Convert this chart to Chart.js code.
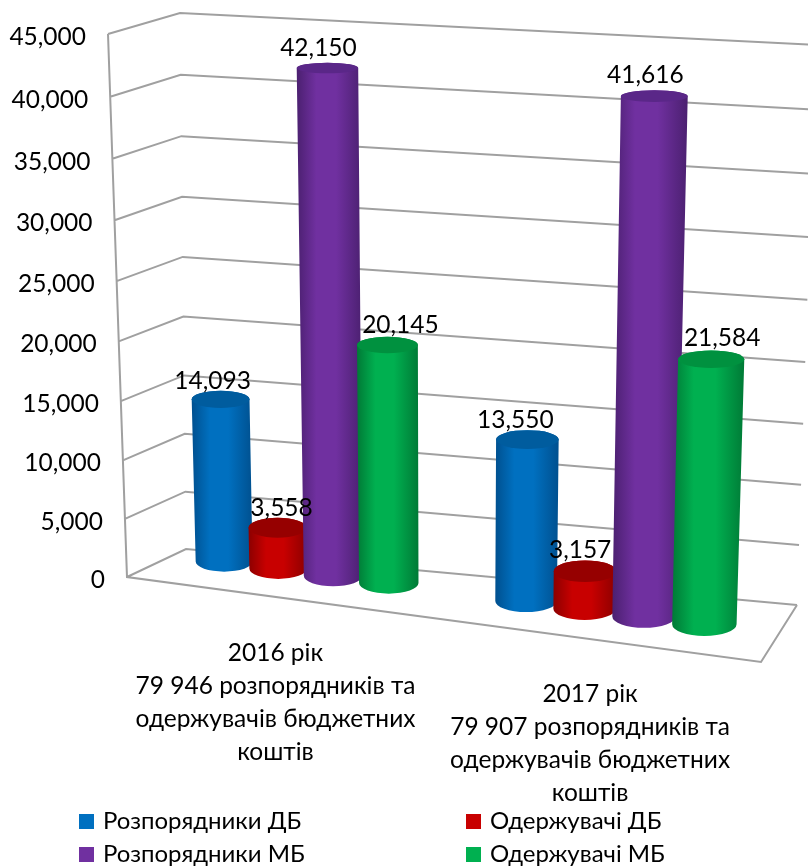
<!DOCTYPE html>
<html>
<head>
<meta charset="utf-8">
<script src="https://cdn.jsdelivr.net/npm/chart.js@4"></script>
<style>
  html, body { margin: 0; padding: 0; background: #fff; }
  #wrap { position: relative; width: 808px; height: 867px; overflow: hidden; }
  #myChart { display: block; }
  #legend div { position: absolute; font: 24px Lato, Carlito, sans-serif; color: #000; line-height: 30px; white-space: nowrap; }
  #legend i { display: inline-block; width: 15px; height: 15px; margin-right: 9px; }
</style>
</head>
<body>
<div id="wrap">
  <canvas id="myChart" width="808" height="867"></canvas>
  <div id="legend"></div>
</div>
<script>
const categories = [
  ["2016 рік", "79 946 розпорядників та", "одержувачів бюджетних", "коштів"],
  ["2017 рік", "79 907 розпорядників та", "одержувачів бюджетних", "коштів"],
];
const seriesNames = ["Розпорядники ДБ", "Одержувачі ДБ", "Розпорядники МБ", "Одержувачі МБ"];
const rozporDB = [14093, 13550];
const oderzhDB = [3558, 3157];
const rozporMB = [42150, 41616];
const oderzhMB = [20145, 21584];

// side colour, side edge colour, lid colour
const colors = [
  ["#0070c0", "#00508f", "#005c9e"],
  ["#c80000", "#8c0000", "#960000"],
  ["#7030a0", "#4b2070", "#5a2788"],
  ["#00b050", "#007a36", "#00913f"],
];
// how far each value label sits from its lid: x per category, then y
const labelShift = [[-8, -12], [4, -5], [-9, -9], [13, 11]];
const labelLift = [10, 10, 15, 12];
const categoryShift = [-30, -24];
const FONT = "24.5px Lato, Carlito, sans-serif";

// picture plane of the bars: (t,v) unit square -> page, corners
const plane = squareToQuad([160, 553], [778, 634], [797, 60], [145, 21]);
// the walls
const wall = {
  front: [[127, 577], [108, 34]],
  back: [[186, 549], [180, 13]],
  right: [[797, 605], [816, 45]],
  corner: [761, 662],
};

function squareToQuad(p0, p1, p2, p3) {
  var dx1 = p1[0] - p2[0], dx2 = p3[0] - p2[0], sx = p0[0] - p1[0] + p2[0] - p3[0];
  var dy1 = p1[1] - p2[1], dy2 = p3[1] - p2[1], sy = p0[1] - p1[1] + p2[1] - p3[1];
  var den = dx1 * dy2 - dx2 * dy1;
  var g = (sx * dy2 - dx2 * sy) / den, h = (dx1 * sy - sx * dy1) / den;
  return {
    a: p1[0] - p0[0] + g * p1[0], b: p3[0] - p0[0] + h * p3[0], c: p0[0],
    d: p1[1] - p0[1] + g * p1[1], e: p3[1] - p0[1] + h * p3[1], f: p0[1],
    g: g, h: h,
  };
}

function project(chart, px, py) {
  var area = chart.chartArea;
  var t = (px - area.left) / (area.right - area.left);
  var v = (area.bottom - py) / (area.bottom - area.top);
  var w = plane.g * t + plane.h * v + 1;
  return { x: (plane.a * t + plane.b * v + plane.c) / w, y: (plane.d * t + plane.e * v + plane.f) / w, v: v };
}

function wallPoint(line, frac) {
  var f = frac / (1 + 0.044 * (1 - frac));
  return [line[0][0] + (line[1][0] - line[0][0]) * f, line[0][1] + (line[1][1] - line[0][1]) * f];
}

function drawCylinder(ctx, chart, el, col) {
  var half = el.width / 2;
  var tl = project(chart, el.x - half, el.y), tr = project(chart, el.x + half, el.y);
  var bl = project(chart, el.x - half, el.base), br = project(chart, el.x + half, el.base);
  var topW = (tr.x - tl.x) / 2, botW = (br.x - bl.x) / 2;
  var topH = topW * (0.36 - 0.2 * tl.v), botH = botW * 0.36;
  var topC = [(tl.x + tr.x) / 2, (tl.y + tr.y) / 2], botC = [(bl.x + br.x) / 2, (bl.y + br.y) / 2];

  var grad = ctx.createLinearGradient(Math.min(tl.x, bl.x), 0, Math.max(tr.x, br.x), 0);
  grad.addColorStop(0, col[1]);
  grad.addColorStop(0.3, col[0]);
  grad.addColorStop(0.6, col[0]);
  grad.addColorStop(1, col[1]);

  // lids sit level in the picture, the sides just join them
  ctx.beginPath();
  ctx.moveTo(topC[0] - topW, topC[1]);
  ctx.lineTo(botC[0] - botW, botC[1]);
  ctx.ellipse(botC[0], botC[1], botW, botH, 0, Math.PI, 0, true);
  ctx.lineTo(topC[0] + topW, topC[1]);
  ctx.ellipse(topC[0], topC[1], topW, topH, 0, 0, Math.PI, true);
  ctx.closePath();
  ctx.fillStyle = grad;
  ctx.fill();

  ctx.beginPath();
  ctx.ellipse(topC[0], topC[1], topW, topH, 0, 0, Math.PI * 2);
  ctx.fillStyle = col[2];
  ctx.fill();
  return { x: topC[0], y: topC[1] - topH };
}

const scene3d = {
  id: "scene3d",
  beforeDatasetsDraw(chart) {
    var ctx = chart.ctx, yScale = chart.scales.y;
    ctx.save();
    ctx.strokeStyle = "#a0a0a0";
    ctx.lineWidth = 2;
    ctx.beginPath();
    yScale.ticks.forEach((tick) => {
      var frac = tick.value / yScale.max;
      var a = wallPoint(wall.front, frac), b = wallPoint(wall.back, frac), c = wallPoint(wall.right, frac);
      ctx.moveTo(a[0], a[1]);
      ctx.lineTo(b[0], b[1]);
      ctx.lineTo(c[0], c[1]);
    });
    ctx.moveTo(wall.front[1][0], wall.front[1][1]);
    ctx.lineTo(wall.front[0][0], wall.front[0][1]);
    ctx.lineTo(wall.corner[0], wall.corner[1]);
    ctx.lineTo(wall.right[0][0], wall.right[0][1]);
    ctx.stroke();

    ctx.font = FONT;
    ctx.fillStyle = "#000";
    ctx.textAlign = "right";
    ctx.textBaseline = "middle";
    yScale.ticks.forEach((tick) => {
      var a = wallPoint(wall.front, tick.value / yScale.max);
      ctx.fillText(tick.label, a[0] - 22, a[1] + 3);
    });

    ctx.textAlign = "center";
    var xScale = chart.scales.x;
    categories.forEach((lines, i) => {
      var p = project(chart, xScale.getPixelForTick(i), chart.chartArea.bottom);
      lines.forEach((line, j) => {
        ctx.fillText(line, p.x + categoryShift[i], p.y + 81 + i + j * 33);
      });
    });
    ctx.restore();
  },
  // bars are drawn below, chart.js would paint the datasets last to first
  beforeDatasetDraw() {
    return false;
  },
  afterDatasetsDraw(chart) {
    var ctx = chart.ctx;
    var tops = [];
    ctx.save();
    categories.forEach((c, i) => {
      chart.data.datasets.forEach((ds, d) => {
        var el = chart.getDatasetMeta(d).data[i];
        var top = drawCylinder(ctx, chart, el, colors[d]);
        tops.push({ x: top.x + labelShift[d][i], y: top.y - labelLift[d], text: ds.data[i].toLocaleString("en-US") });
      });
    });
    ctx.font = FONT;
    ctx.fillStyle = "#000";
    ctx.textAlign = "center";
    ctx.textBaseline = "middle";
    tops.forEach((t) => ctx.fillText(t.text, t.x, t.y));
    ctx.restore();
  },
};

var data = {
  labels: categories,
  datasets: [
    { label: seriesNames[0], data: rozporDB, backgroundColor: colors[0][0] },
    { label: seriesNames[1], data: oderzhDB, backgroundColor: colors[1][0] },
    { label: seriesNames[2], data: rozporMB, backgroundColor: colors[2][0] },
    { label: seriesNames[3], data: oderzhMB, backgroundColor: colors[3][0] },
  ],
};

var ctx = document.getElementById("myChart").getContext("2d");
var chart = new Chart(ctx, {
  type: "bar",
  data: data,
  plugins: [scene3d],
  options: {
    responsive: false,
    animation: false,
    barPercentage: 1.06,
    categoryPercentage: 0.74,
    plugins: {
      legend: { display: false },
      tooltip: { enabled: false },
    },
    scales: {
      x: { display: true, grid: { display: false }, border: { display: false }, ticks: { display: false } },
      y: {
        min: 0,
        max: 45000,
        grid: { display: false },
        border: { display: false },
        ticks: { display: false, stepSize: 5000 },
      },
    },
  },
});

// legend is a plain 2x2 block over the canvas
var legendPos = [[79, 805], [466, 805], [79, 838], [466, 838]];
chart.data.datasets.forEach((ds, i) => {
  var item = document.createElement("div");
  item.style.left = legendPos[i][0] + "px";
  item.style.top = legendPos[i][1] + "px";
  var box = document.createElement("i");
  box.style.background = ds.backgroundColor;
  item.appendChild(box);
  item.appendChild(document.createTextNode(ds.label));
  document.getElementById("legend").appendChild(item);
});
</script>
</body>
</html>
